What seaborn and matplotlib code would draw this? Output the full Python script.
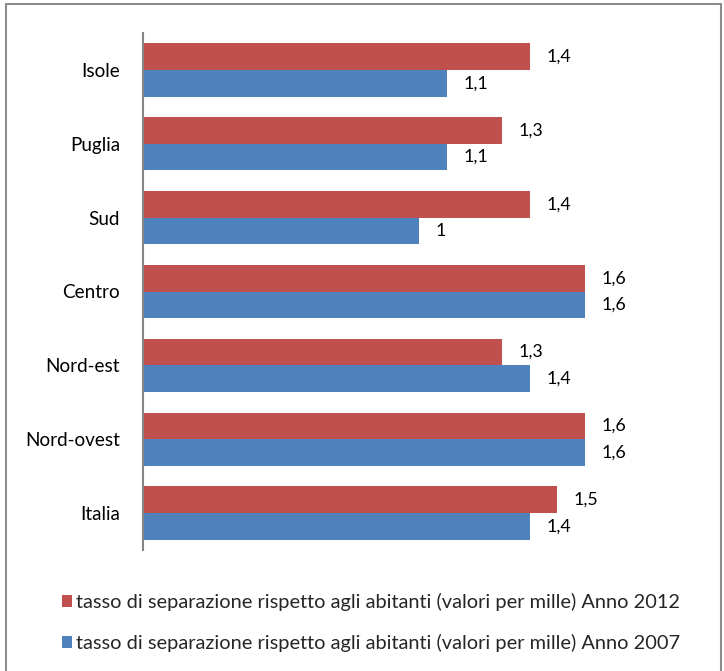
import matplotlib
matplotlib.use("Agg")
import matplotlib.pyplot as plt
import seaborn as sns
import pandas as pd
from matplotlib.patches import Rectangle, Patch

categories = ["Isole", "Puglia", "Sud", "Centro", "Nord-est", "Nord-ovest", "Italia"]
values_2012 = [1.4, 1.3, 1.4, 1.6, 1.3, 1.6, 1.5]
values_2007 = [1.1, 1.1, 1.0, 1.6, 1.4, 1.6, 1.4]
series = ["tasso di separazione rispetto agli abitanti (valori per mille) Anno 2012",
          "tasso di separazione rispetto agli abitanti (valori per mille) Anno 2007"]
colors = ["#C0504D", "#4F81BD"]

df = pd.DataFrame({
    "cat": categories * 2,
    "val": values_2012 + values_2007,
    "serie": [series[0]] * len(categories) + [series[1]] * len(categories),
})

sns.set_theme(style="white")
plt.rcParams["font.family"] = ["Lato", "DejaVu Sans"]

fig = plt.figure(figsize=(7.24, 6.71), dpi=100)
W, H = 724, 671
ax = fig.add_axes([143 / W, 1 - 550 / H, (640 - 143) / W, (550 - 33) / H])

sns.barplot(data=df, y="cat", x="val", hue="serie", order=categories,
            hue_order=series, palette=colors, orient="h", width=0.72,
            saturation=1, ax=ax, legend=False, edgecolor="none")

ax.set_xlim(0, 1.8)
ax.set_ylim(len(categories) - 0.5, -0.5)
ax.set_xlabel("")
ax.set_ylabel("")
ax.set_xticks([])
for s in ["top", "right", "bottom"]:
    ax.spines[s].set_visible(False)
ax.spines["left"].set_color("#868686")
ax.spines["left"].set_linewidth(1.5)
ax.tick_params(axis="y", length=0, pad=16.5, labelsize=13.6, labelcolor="black")

for cont in ax.containers:
    labels = [f"{v:g}".replace(".", ",") for v in cont.datavalues]
    ax.bar_label(cont, labels=labels, padding=12, fontsize=12.8, color="black")

handles = [Patch(facecolor=c, edgecolor="none") for c in colors]
fig.legend(handles, series, loc="upper left", bbox_to_anchor=(62 / W, 1 - 593 / H),
           frameon=False, fontsize=14.4, handlelength=0.52, handleheight=0.52,
           handletextpad=0.2, labelspacing=1.15, borderpad=0, borderaxespad=0)

fig.patches.append(Rectangle((6 / W, -0.05), (721 - 6) / W, 1.05 - 4 / H,
                             transform=fig.transFigure, fill=False,
                             edgecolor="#8C8C8C", linewidth=1.5))

fig.savefig("out.png", dpi=100)
